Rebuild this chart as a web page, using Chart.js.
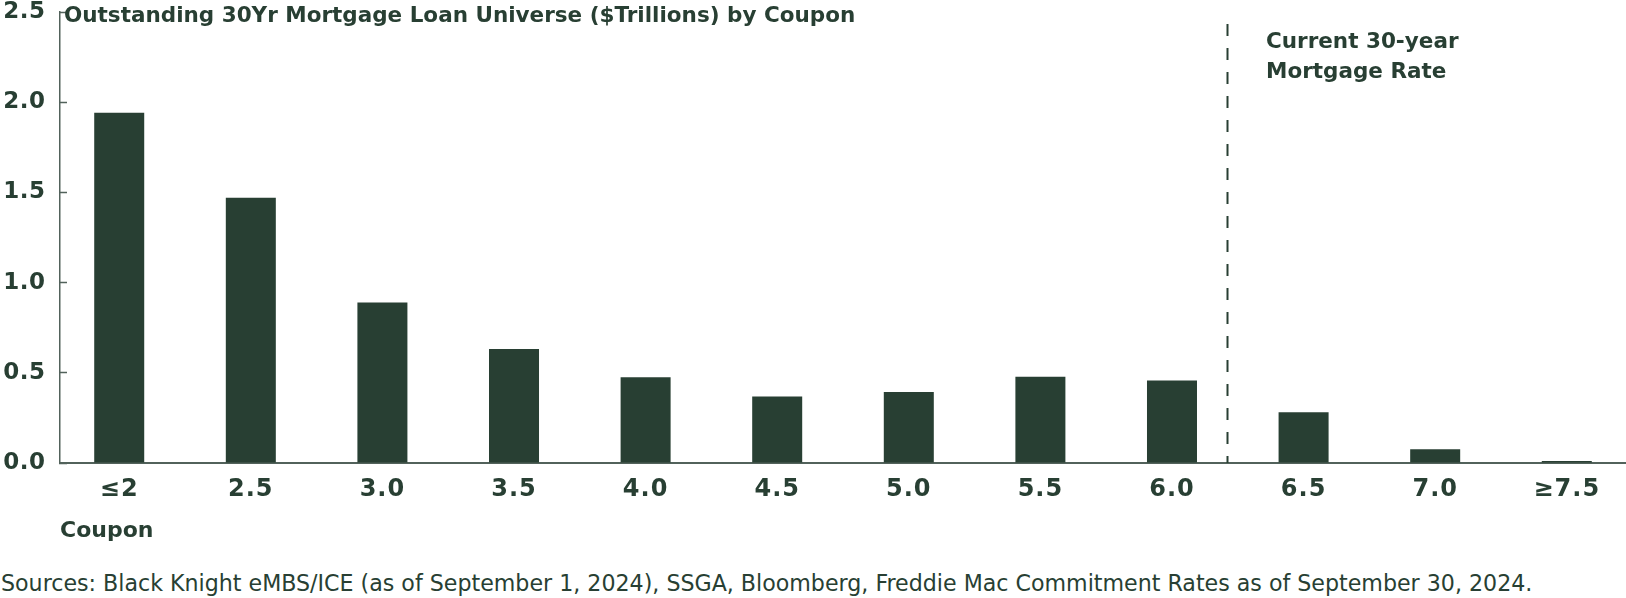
<!DOCTYPE html>
<html lang="en">
<head>
<meta charset="UTF-8">
<title>Outstanding 30Yr Mortgage Loan Universe by Coupon</title>
<script src="https://cdn.jsdelivr.net/npm/chart.js@4"></script>
<style>
  html, body { margin: 0; padding: 0; background: #fff; }
  #wrap { position: relative; width: 1626px; height: 598px; overflow: hidden; color: #283f33; }
  #box { position: absolute; left: 0; top: 0; width: 1626px; height: 555px; }
  .title { position: absolute; left: 64px; top: 4px; font: bold 21.5px 'DejaVu Sans'; line-height: 1; white-space: nowrap; }
  .note { position: absolute; left: 1266px; top: 26px; font: bold 21.5px 'DejaVu Sans'; line-height: 30px; white-space: nowrap; }
  .src { position: absolute; left: 1px; top: 572px; font: 22.15px 'DejaVu Sans'; line-height: 1; white-space: nowrap; }
</style>
</head>
<body>
<div id="wrap">
  <div id="box"><canvas id="grafico"></canvas></div>
  <div class="title">Outstanding 30Yr Mortgage Loan Universe ($Trillions) by Coupon</div>
  <div class="note">Current 30-year<br>Mortgage Rate</div>
  <div class="src">Sources: Black Knight eMBS/ICE (as of September 1, 2024), SSGA, Bloomberg, Freddie Mac Commitment Rates as of September 30, 2024.</div>
</div>

<script>
  // datos
  const coupons = ['≤2', '2.5', '3.0', '3.5', '4.0', '4.5', '5.0', '5.5', '6.0', '6.5', '7.0', '≥7.5'];
  const outstanding = [1.942, 1.471, 0.89, 0.632, 0.475, 0.368, 0.394, 0.478, 0.458, 0.281, 0.076, 0.011];
  const yTicks = [0, 0.5, 1.0, 1.5, 2.0, 2.5];
  const currentRatePos = 8.42; // posicion de la tasa actual entre 6.0 y 6.5

  const green = '#283f33';
  const axisColor = '#52625b';

  // espaciado de letras en las etiquetas de los ejes
  const spacing = { x: '1px', y: '0.5px' };
  const letterSpacingPlugin = {
    id: 'letterSpacing',
    beforeDraw(chart) {
      Object.keys(spacing).forEach(id => {
        const scale = chart.scales[id];
        if (!scale || scale._spaced) return;
        const orig = scale.drawLabels.bind(scale);
        scale.drawLabels = function (area) {
          const ctx = this.ctx;
          ctx.save();
          ctx.letterSpacing = spacing[id];
          orig(area);
          ctx.restore();
        };
        scale._spaced = true;
      });
    }
  };

  // linea discontinua de la tasa hipotecaria actual
  const rateLine = {
    id: 'rateLine',
    afterDatasetsDraw(chart) {
      const { ctx, chartArea, scales } = chart;
      const x = Math.round(scales.x.getPixelForValue(currentRatePos)) + 0.5;
      ctx.save();
      ctx.strokeStyle = green;
      ctx.lineWidth = 2;
      ctx.setLineDash([12, 12]);
      ctx.lineDashOffset = 5;
      ctx.beginPath();
      ctx.moveTo(x, chartArea.bottom);
      ctx.lineTo(x, chartArea.top);
      ctx.stroke();
      ctx.restore();
    }
  };

  new Chart(document.getElementById('grafico').getContext('2d'), {
    type: 'bar',
    data: {
      datasets: [{
        data: outstanding.map((v, i) => ({ x: i, y: v })),
        backgroundColor: green,
        borderWidth: 0,
        barPercentage: 0.38,
        categoryPercentage: 1
      }]
    },
    options: {
      responsive: true,
      maintainAspectRatio: false,
      animation: false,
      layout: { padding: { top: 12, right: 0, bottom: 0, left: 0 } },
      plugins: { legend: { display: false }, tooltip: { enabled: false } },
      scales: {
        x: {
          type: 'linear',
          offset: false,
          min: -0.45,
          max: 11.45,
          afterBuildTicks: s => { s.ticks = coupons.map((c, i) => ({ value: i })); },
          afterFit: s => { s.height = 92; },
          grid: { display: false, offset: false },
          border: { display: true, color: axisColor, width: 2 },
          ticks: {
            autoSkip: false,
            maxRotation: 0,
            padding: 4.5,
            color: green,
            font: { family: 'DejaVu Sans', weight: 'bold', size: 24 },
            callback: v => coupons[v]
          },
          title: {
            display: true,
            text: 'Coupon',
            align: 'start',
            color: green,
            font: { family: 'DejaVu Sans', weight: 'bold', size: 22 },
            padding: { top: 0, bottom: 11 }
          }
        },
        y: {
          min: 0,
          max: 2.5,
          afterBuildTicks: s => { s.ticks = yTicks.map(v => ({ value: v })); },
          afterFit: s => { s.width = 60; s.paddingTop = 0; s.paddingBottom = 0; },
          grid: { drawOnChartArea: false, drawTicks: true, tickLength: -7, tickColor: axisColor, tickWidth: 1.5 },
          border: { display: true, color: axisColor, width: 1.5 },
          ticks: {
            padding: 21.5,
            color: green,
            font: { family: 'DejaVu Sans', weight: 'bold', size: 23 },
            callback: v => v.toFixed(1)
          }
        }
      }
    },
    plugins: [letterSpacingPlugin, rateLine]
  });
</script>
</body>
</html>
